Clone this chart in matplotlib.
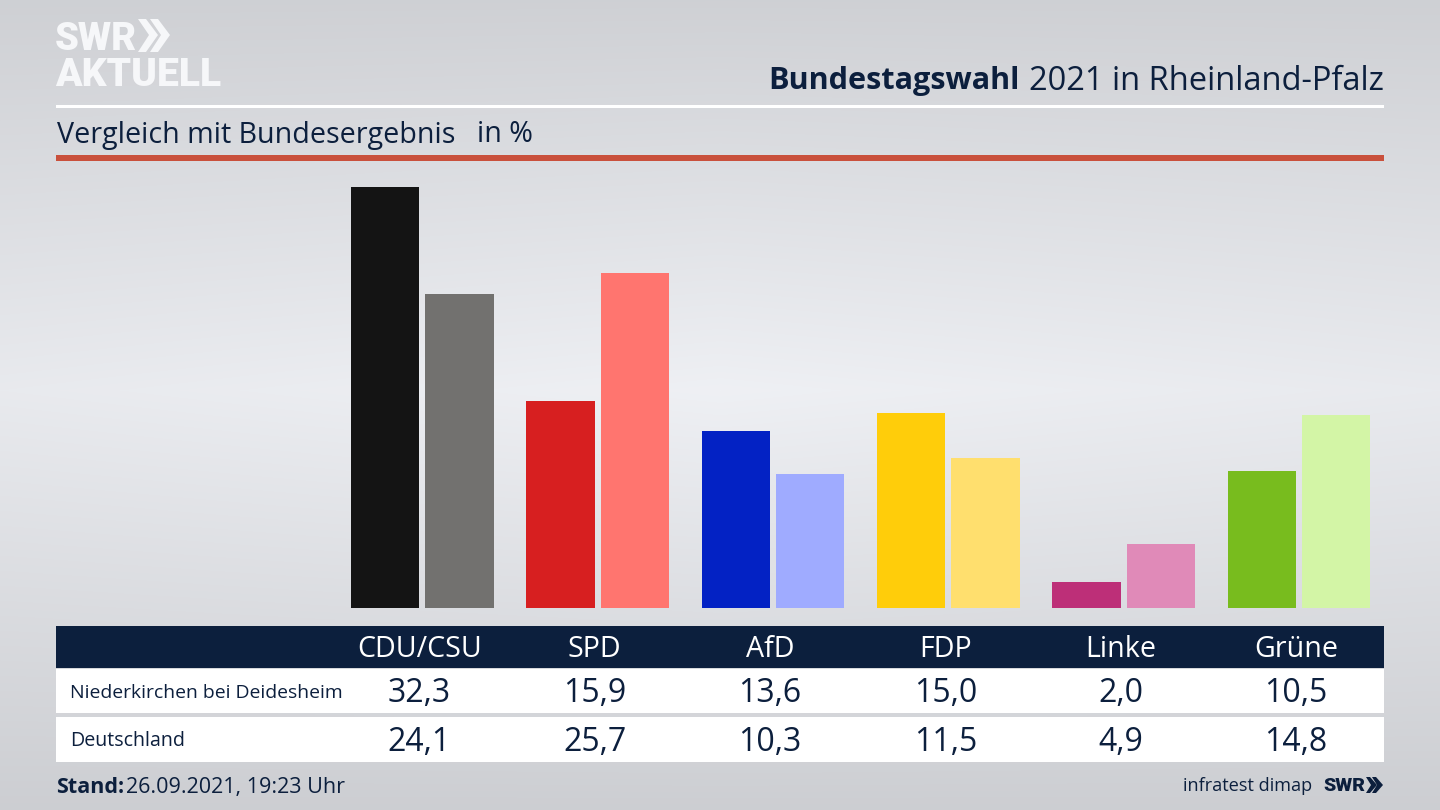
import numpy as np
import matplotlib
matplotlib.use("Agg")
import matplotlib.pyplot as plt
from matplotlib.patches import Polygon, Rectangle

parties = ["CDU/CSU", "SPD", "AfD", "FDP", "Linke", "Grüne"]
local_name = "Niederkirchen bei Deidesheim"
national_name = "Deutschland"
local_values = [32.3, 15.9, 13.6, 15.0, 2.0, 10.5]
national_values = [24.1, 25.7, 10.3, 11.5, 4.9, 14.8]
local_colors = ["#141414", "#d71f20", "#0322c4", "#ffcd0a", "#bd2f78", "#78bc1e"]
national_colors = ["#72716f", "#ff756f", "#9fabff", "#ffdf6e", "#e08ab8", "#d3f5a6"]

NAVY = "#0c1f3d"
FONT = "Open Sans"
plt.rcParams["font.family"] = [FONT, "DejaVu Sans"]

W, H = 1440, 810
fig = plt.figure(figsize=(W / 100, H / 100), dpi=100)

def box(l, t, r, b):
    return [l / W, 1 - b / H, (r - l) / W, (b - t) / H]

# background + furniture in pixel coordinates
bg = fig.add_axes([0, 0, 1, 1], zorder=0)
bg.set_xlim(0, W); bg.set_ylim(H, 0); bg.axis("off")
yy, xx = np.mgrid[0:H, 0:W]
v = 1 - np.abs(yy - 390) / 420
h = 1 - np.abs(xx - 720) / 720
shade = 206 + 31 * v ** 1.0 + 6 * (h - 0.5) * v
grad = np.dstack([shade - 1.5, shade, shade + 4]) / 255
bg.imshow(np.clip(grad, 0, 1), extent=(0, W, H, 0), aspect="auto", zorder=0)

def rect(l, t, r, b, c, z=1):
    bg.add_patch(Rectangle((l, t), r - l, b - t, fc=c, ec="none", zorder=z))

rect(56, 104.5, 1384, 107.5, "#ffffff")
rect(56, 155, 1384, 160.5, "#c9503c")
rect(56, 626, 1384, 668, NAVY)
rect(56, 669, 1384, 713, "#ffffff")
rect(56, 717, 1384, 762, "#ffffff")

# title block
bg.text(1020, 81, "Bundestagswahl", ha="right", va="center", fontsize=22.1,
        fontweight="bold", color=NAVY, zorder=3)
bg.text(1384, 81, "2021 in Rheinland-Pfalz", ha="right", va="center", fontsize=23.5,
        color=NAVY, zorder=3)
bg.text(57, 135, "Vergleich mit Bundesergebnis", ha="left", va="center", fontsize=20.6,
        color=NAVY, zorder=3)
bg.text(477, 135, "in %", ha="left", va="center", fontsize=20.6, color=NAVY, zorder=3)

# logo
logo_c = "#f6f7f9"
bg.text(55, 39, "SWR", ha="left", va="center", fontsize=27.5, fontweight=900,
        color=logo_c, zorder=3, family="Roboto")
bg.text(55, 75, "AKTUELL", ha="left", va="center", fontsize=28.1, fontweight=900,
        color=logo_c, zorder=3, family="Roboto")
for dx in (0, 12):
    bg.add_patch(Polygon([(138 + dx, 19), (146 + dx, 19), (158 + dx, 35), (146 + dx, 52),
                          (138 + dx, 52), (149 + dx, 35)], fc=logo_c, ec="none", zorder=3))

# bars
ax = fig.add_axes(box(334.7, 170, 1386.5, 608), zorder=1)
ax.patch.set_alpha(0)
ax.axis("off")
x = np.arange(len(parties))
ax.bar(x - 0.212, local_values, width=0.39, color=local_colors)
ax.bar(x + 0.212, national_values, width=0.39, color=national_colors)
ax.set_xlim(-0.5, 5.5)
ax.set_ylim(0, 438 / 13.03)

# table text
tbl = fig.add_axes(box(331.7, 626, 1383.5, 762), zorder=2)
tbl.patch.set_alpha(0); tbl.axis("off")
tbl.set_xlim(-0.5, 5.5); tbl.set_ylim(762, 626)
for i, p in enumerate(parties):
    tbl.text(i, 649.5, p, ha="center", va="center", fontsize=20.6, color="#ffffff")
    tbl.text(i, 694, f"{local_values[i]:.1f}".replace(".", ","), ha="center", va="center",
             fontsize=23, color=NAVY)
    tbl.text(i, 742.5, f"{national_values[i]:.1f}".replace(".", ","), ha="center", va="center",
             fontsize=23, color=NAVY)

bg.text(70.5, 692.5, local_name, ha="left", va="center", fontsize=13.95, color=NAVY, zorder=3)
bg.text(70.5, 741.5, national_name, ha="left", va="center", fontsize=14.1, color=NAVY, zorder=3)

# footer
bg.text(56, 787.5, "Stand:", ha="left", va="center", fontsize=15.5, fontweight="bold",
        color=NAVY, zorder=3)
bg.text(126, 787.5, "26.09.2021, 19:23 Uhr", ha="left", va="center", fontsize=15.45,
        color=NAVY, zorder=3)
bg.text(1312, 786, "infratest dimap", ha="right", va="center", fontsize=13.1, color=NAVY, zorder=3)
bg.text(1323, 786, "SWR", ha="left", va="center", fontsize=14, fontweight=900,
        color=NAVY, zorder=3, family="Roboto")
for dx in (0, 6):
    bg.add_patch(Polygon([(1366 + dx, 777), (1370 + dx, 777), (1377 + dx, 785), (1370 + dx, 793),
                          (1366 + dx, 793), (1371 + dx, 785)], fc=NAVY, ec="none", zorder=3))

fig.savefig("out.png", dpi=100)
